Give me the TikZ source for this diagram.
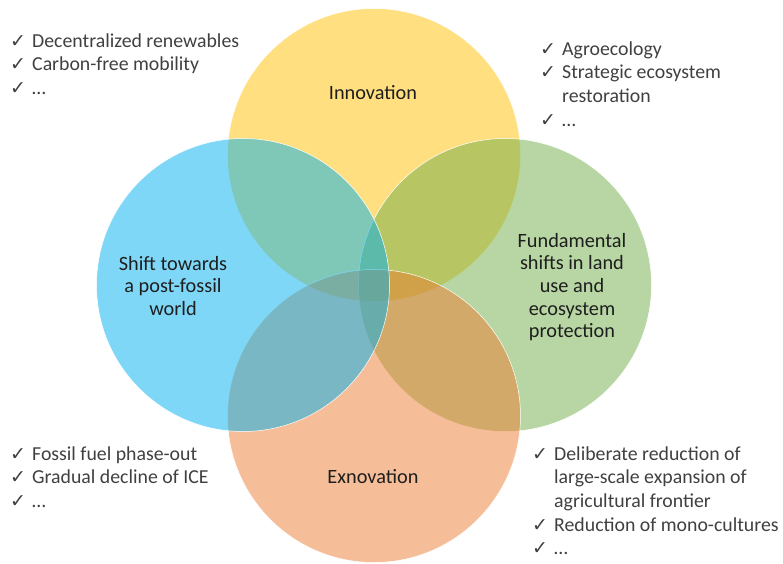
\documentclass[tikz,border=0pt]{standalone}
\usepackage{fontspec}
\setmainfont{Carlito}
\newfontfamily\symfont{DejaVu Sans}
\usetikzlibrary{positioning}

\definecolor{innovc}{HTML}{FFC000}
\definecolor{shiftc}{HTML}{00B0F0}
\definecolor{landc}{HTML}{70AD47}
\definecolor{exnovc}{HTML}{ED7D31}
\definecolor{textc}{HTML}{1E1E1E}

% check mark in front of each example
\newcommand{\chk}{\makebox[22pt][l]{\symfont\bfseries\fontsize{19}{19}\selectfont ✓}}
\newcommand{\ind}{\hspace*{22pt}}

\tikzset {
  % one circle of the diagram
  venn/.style = {
    circle,
    minimum size = 293pt,
    inner sep = 0,
    fill opacity = 0.5,
    draw = white,
    line width = 0.5pt
  },
  % label inside a circle
  topic/.style = {
    align = center,
    text = textc,
    font = \fontsize{20.3}{22.7}\selectfont
  },
  % list of examples beside a circle
  examples/.style = {
    anchor = base west,
    inner sep = 0,
    text = textc!85,
    font = \fontsize{19.8}{23.7}\selectfont
  }
}

\begin{document}
\begin{tikzpicture}[x=1pt, y=-1pt]
    \useasboundingbox (0,0) rectangle (783,563);

    \node[venn, fill=innovc] (innov) at (374,155) {};
    \node[venn, fill=landc] (land) at (505,285) {};
    \node[venn, fill=exnovc] (exnov) at (374,416) {};
    \node[venn, fill=shiftc] (shift) at (243,285) {};

    \node[topic] (innov-label) at (373,93) {Innovation};
    \node[topic] (exnov-label) at (373,477) {Exnovation};
    \node[topic] (shift-label) at (173,286)
    {Shift towards\\a post-fossil\\world};
    \node[topic] (land-label) at (572,287)
    {Fundamental\\shifts in land\\use and\\ecosystem\\protection};

    \node[examples] (shift-top) at (10,47) {\begin{tabular}[t]{@{}l@{}}
      \chk Decentralized renewables\\
      \chk Carbon-free mobility\\
      \chk …
    \end{tabular}};
    \node[examples] (land-top) at (540,55) {\begin{tabular}[t]{@{}l@{}}
      \chk Agroecology\\
      \chk Strategic ecosystem\\
      \ind restoration\\
      \chk …
    \end{tabular}};
    \node[examples] (shift-bottom) at (10,460) {\begin{tabular}[t]{@{}l@{}}
      \chk Fossil fuel phase-out\\
      \chk Gradual decline of ICE\\
      \chk …
    \end{tabular}};
    \node[examples] (land-bottom) at (532,460) {\begin{tabular}[t]{@{}l@{}}
      \chk Deliberate reduction of\\
      \ind large-scale expansion of\\
      \ind agricultural frontier\\
      \chk Reduction of mono-cultures\\
      \chk …
    \end{tabular}};
\end{tikzpicture}
\end{document}
